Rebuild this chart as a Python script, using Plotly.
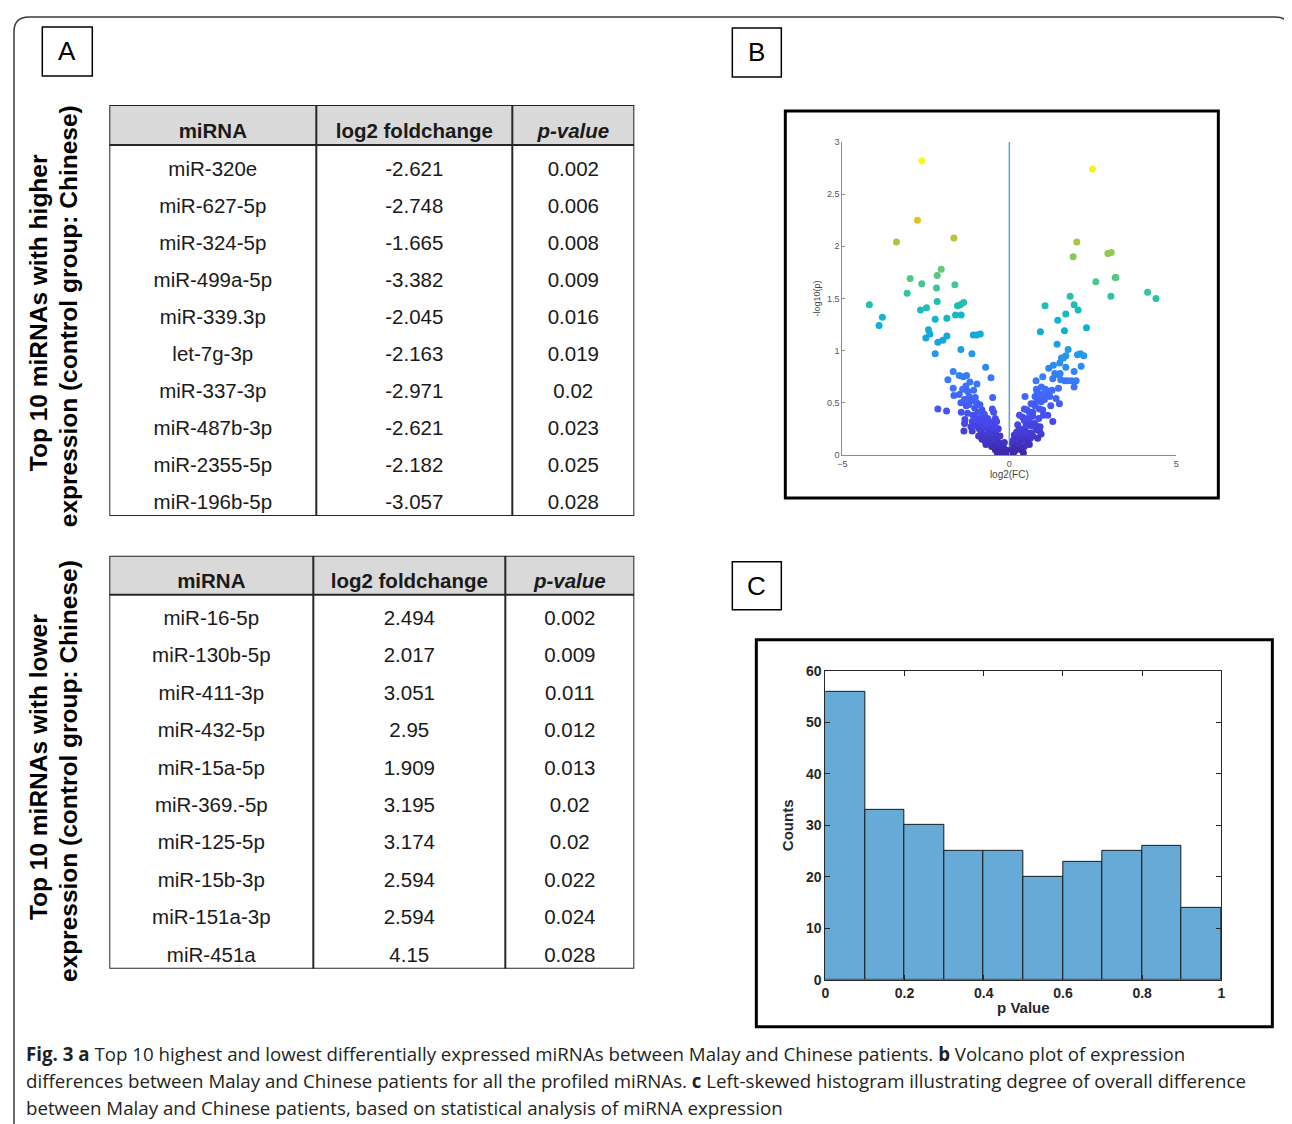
import plotly.graph_objects as go

# ---------------- data ----------------
table_header = ["miRNA", "log2 foldchange", "p-value"]

higher_mirna = ["miR-320e", "miR-627-5p", "miR-324-5p", "miR-499a-5p", "miR-339.3p",
                "let-7g-3p", "miR-337-3p", "miR-487b-3p", "miR-2355-5p", "miR-196b-5p"]
higher_log2fc = [-2.621, -2.748, -1.665, -3.382, -2.045, -2.163, -2.971, -2.621, -2.182, -3.057]
higher_pval = [0.002, 0.006, 0.008, 0.009, 0.016, 0.019, 0.02, 0.023, 0.025, 0.028]

lower_mirna = ["miR-16-5p", "miR-130b-5p", "miR-411-3p", "miR-432-5p", "miR-15a-5p",
               "miR-369.-5p", "miR-125-5p", "miR-15b-3p", "miR-151a-3p", "miR-451a"]
lower_log2fc = [2.494, 2.017, 3.051, 2.95, 1.909, 3.195, 3.174, 2.594, 2.594, 4.15]
lower_pval = [0.002, 0.009, 0.011, 0.012, 0.013, 0.02, 0.02, 0.022, 0.024, 0.028]

# volcano plot: (log2 FC, -log10 p)
volcano_left = [
    (-2.62, 2.82), (-2.75, 2.25), (-3.38, 2.04), (-1.66, 2.08), (-2.04, 1.78), (-2.16, 1.72), (-2.97, 1.69), (-2.62, 1.64), (-1.63, 1.63), (-2.18, 1.60),
    (-3.06, 1.55), (-2.16, 1.47), (-4.19, 1.44), (-1.37, 1.46), (-1.47, 1.44), (-1.55, 1.43), (-2.48, 1.41), (-2.66, 1.39), (-3.80, 1.32), (-3.90, 1.24),
    (-1.61, 1.34), (-1.44, 1.34), (-1.87, 1.31), (-2.22, 1.30), (-2.42, 1.20), (-2.38, 1.16), (-2.50, 1.12), (-2.14, 1.08), (-1.99, 1.10), (-1.87, 1.14),
    (-2.22, 0.97), (-1.45, 1.01), (-1.12, 0.97), (-1.08, 1.15), (-0.98, 1.15), (-0.87, 1.16), (-0.71, 0.84), (-0.55, 0.74), (-1.68, 0.80), (-1.84, 0.72),
    (-1.50, 0.76), (-1.28, 0.76), (-1.38, 0.75), (-1.68, 0.64), (-1.66, 0.57), (-1.30, 0.66), (-1.25, 0.61), (-1.07, 0.62), (-0.97, 0.68), (-1.20, 0.56),
    (-1.34, 0.53), (-1.29, 0.47), (-2.14, 0.44), (-1.88, 0.42), (-1.44, 0.41), (-1.04, 0.45), (-0.94, 0.41), (-1.09, 0.38), (-0.82, 0.43), (-0.75, 0.39),
    (-0.87, 0.35), (-0.65, 0.35), (-0.50, 0.55), (-0.51, 0.44), (-0.47, 0.41), (-0.42, 0.35), (-0.60, 0.32), (-1.33, 0.34), (-1.34, 0.30), (-1.11, 0.32),
    (-1.15, 0.27), (-1.36, 0.23), (-1.11, 0.23), (-0.84, 0.22), (-0.75, 0.19), (-0.65, 0.17), (-0.55, 0.14), (-0.45, 0.10), (-0.35, 0.08), (-0.30, 0.06),
    (-0.25, 0.04), (-0.20, 0.03), (-0.15, 0.02), (-0.10, 0.01), (-0.05, 0.005), (-0.53, 0.08), (-0.95, 0.30), (-0.90, 0.25), (-0.80, 0.28), (-0.70, 0.26),
    (-0.62, 0.22), (-0.58, 0.27), (-0.48, 0.25), (-0.40, 0.20), (-0.38, 0.15), (-0.32, 0.12), (-0.28, 0.18), (-0.42, 0.05), (-0.22, 0.10), (-0.18, 0.07),
    (-0.12, 0.05), (-0.08, 0.03), (-0.60, 0.12), (-0.70, 0.10), (-0.48, 0.15), (-0.36, 0.02), (-0.26, 0.01), (-0.15, 0.12), (-1.00, 0.35), (-0.98, 0.50),
    (-1.14, 0.52), (-1.22, 0.48), (-1.40, 0.63), (-1.50, 0.58), (-1.18, 0.70), (-1.02, 0.55), (-0.88, 0.48), (-0.78, 0.33), (-0.68, 0.30), (-0.52, 0.30),
    (-1.25, 0.40), (-1.45, 0.50), (-1.05, 0.28), (-0.92, 0.18), (-0.82, 0.15), (-0.72, 0.13), (-0.55, 0.20), (-0.45, 0.28), (-0.33, 0.25), (-0.38, 0.32),
]
volcano_right = [
    (2.49, 2.74), (2.02, 2.04), (2.95, 1.93), (3.05, 1.94), (1.91, 1.90), (3.19, 1.70), (3.17, 1.70), (2.59, 1.66), (1.82, 1.52), (3.04, 1.52),
    (4.14, 1.56), (4.39, 1.50), (1.94, 1.44), (2.06, 1.39), (1.07, 1.43), (1.69, 1.35), (1.45, 1.29), (2.31, 1.22), (1.65, 1.19), (0.93, 1.18),
    (1.43, 1.06), (1.76, 1.01), (2.04, 0.96), (2.13, 0.97), (2.23, 0.95), (1.69, 0.95), (1.62, 0.93), (1.56, 0.93), (1.51, 0.88), (1.32, 0.86),
    (1.18, 0.83), (1.69, 0.84), (2.15, 0.85), (1.94, 0.80), (1.36, 0.78), (1.44, 0.77), (1.52, 0.78), (1.30, 0.73), (1.54, 0.72), (1.66, 0.71),
    (1.74, 0.71), (1.86, 0.71), (2.00, 0.71), (1.00, 0.75), (0.80, 0.71), (1.94, 0.65), (1.47, 0.64), (0.96, 0.65), (1.08, 0.63), (1.20, 0.61),
    (1.28, 0.62), (0.81, 0.63), (0.84, 0.60), (0.97, 0.58), (1.11, 0.57), (1.21, 0.56), (0.47, 0.56), (0.77, 0.56), (0.85, 0.53), (0.95, 0.51),
    (1.05, 0.53), (1.40, 0.54), (1.50, 0.49), (1.24, 0.47), (0.65, 0.49), (0.73, 0.49), (0.90, 0.44), (1.00, 0.43), (0.77, 0.47), (0.45, 0.44),
    (0.53, 0.43), (0.60, 0.41), (0.70, 0.41), (1.15, 0.38), (1.30, 0.32), (0.30, 0.38), (0.40, 0.36), (0.45, 0.33), (0.60, 0.32), (0.75, 0.30),
    (0.80, 0.28), (0.25, 0.29), (0.30, 0.25), (0.40, 0.24), (0.50, 0.22), (0.65, 0.21), (0.80, 0.24), (0.90, 0.23), (0.95, 0.20), (0.15, 0.19),
    (0.25, 0.16), (0.37, 0.14), (0.50, 0.16), (0.63, 0.16), (0.85, 0.16), (0.60, 0.10), (0.10, 0.11), (0.20, 0.08), (0.05, 0.05), (0.15, 0.03),
    (0.03, 0.02), (0.08, 0.01), (0.35, 0.05), (0.45, 0.08), (0.55, 0.12), (0.70, 0.18), (0.35, 0.20), (0.22, 0.22), (0.12, 0.14), (0.28, 0.10),
    (0.42, 0.02), (0.18, 0.05), (0.65, 0.28), (0.55, 0.35), (0.88, 0.35), (0.50, 0.28), (1.02, 0.38), (0.92, 0.27), (0.70, 0.37),
]
volcano_log2fc = [p[0] for p in volcano_left + volcano_right]
volcano_neglog10p = [p[1] for p in volcano_left + volcano_right]

hist_bin_edges = [0.0, 0.1, 0.2, 0.3, 0.4, 0.5, 0.6, 0.7, 0.8, 0.9, 1.0]
hist_counts = [56, 33, 30, 25, 25, 20, 23, 25, 26, 14]

row_label_lines = [
    ["Top 10 miRNAs with higher", "expression (control group: Chinese)"],
    ["Top 10 miRNAs with lower", "expression (control group: Chinese)"],
]

caption_lines = [
    "<b>Fig. 3 a</b> Top 10 highest and lowest differentially expressed miRNAs between Malay and Chinese patients. <b>b</b> Volcano plot of expression",
    "differences between Malay and Chinese patients for all the profiled miRNAs. <b>c</b> Left-skewed histogram illustrating degree of overall difference",
    "between Malay and Chinese patients, based on statistical analysis of miRNA expression",
]

# ---------------- helpers ----------------
W, H = 1292, 1124
# screen placement of the page (measured): screen = S * figure_px + B
SX, BX = 0.993, 13.7
SY, BY = 0.986, 16.0


def px(x):
    return ((x - BX) / SX) / W


def py(y):
    return 1 - ((y - BY) / SY) / H


ARIAL = "Liberation Sans, Arial, sans-serif"
parula = [
    [0.0, "#3e26a8"], [1 / 9, "#4747eb"], [2 / 9, "#3e6fff"], [3 / 9, "#2796eb"],
    [4 / 9, "#08b4d0"], [5 / 9, "#31c69f"], [6 / 9, "#80cc59"], [7 / 9, "#dcbd29"],
    [8 / 9, "#fccf30"], [1.0, "#f9fb15"],
]

fig = go.Figure()
shapes = []
annotations = []


# ---------------- tables ----------------
def add_table(ax, names, fcs, ps, col_w, top, hline, bottom, header_y):
    xa, ya = "x" + ax, "y" + ax
    edges = [0, col_w[0], col_w[0] + col_w[1], col_w[0] + col_w[1] + col_w[2]]
    centers = [(edges[i] + edges[i + 1]) / 2 for i in range(3)]
    shapes.append(dict(type="rect", xref=xa, yref=ya, x0=edges[0], x1=edges[3], y0=top, y1=hline,
                       fillcolor="#d9d9d9", line=dict(width=0), layer="below"))
    shapes.append(dict(type="line", xref=xa, yref=ya, x0=edges[0], x1=edges[3], y0=hline, y1=hline,
                       line=dict(color="#262626", width=2)))
    for e in edges[1:3]:
        shapes.append(dict(type="line", xref=xa, yref=ya, x0=e, x1=e, y0=top, y1=bottom,
                           line=dict(color="#262626", width=2)))
    shapes.append(dict(type="rect", xref=xa, yref=ya, x0=edges[0], x1=edges[3], y0=top, y1=bottom,
                       line=dict(color="#262626", width=2)))
    rows = list(range(len(names)))
    cols = [names, [str(v) for v in fcs], [str(v) for v in ps]]
    for c in range(3):
        fig.add_trace(go.Scatter(x=[centers[c]] * len(rows), y=rows, text=cols[c], mode="text",
                                 textposition="middle center", xaxis=xa, yaxis=ya,
                                 textfont=dict(family=ARIAL, size=20.5, color="#1a1a1a"),
                                 hoverinfo="skip", showlegend=False, cliponaxis=False))
    hdr = ["<b>%s</b>" % table_header[0], "<b>%s</b>" % table_header[1], "<b><i>%s</i></b>" % table_header[2]]
    fig.add_trace(go.Scatter(x=centers, y=[header_y] * 3, text=hdr, mode="text",
                             textposition="middle center", xaxis=xa, yaxis=ya,
                             textfont=dict(family=ARIAL, size=20.5, color="#1a1a1a"),
                             hoverinfo="skip", showlegend=False, cliponaxis=False))


add_table("3", higher_mirna, higher_log2fc, higher_pval, [207, 196, 122], -1.78, -0.70, 9.32, -1.03)
add_table("4", lower_mirna, lower_log2fc, lower_pval, [204, 192, 129], -1.71, -0.67, 9.33, -0.99)

# ---------------- volcano ----------------
fig.add_trace(go.Scatter(x=[0, 0], y=[0, 3], mode="lines", line=dict(color="#5aa6dc", width=1.5),
                         xaxis="x", yaxis="y", hoverinfo="skip", showlegend=False))
fig.add_trace(go.Scatter(x=volcano_log2fc, y=volcano_neglog10p, mode="markers",
                         marker=dict(size=7, color=volcano_neglog10p, colorscale=parula,
                                     cmin=0, cmax=max(volcano_neglog10p), line=dict(width=0)),
                         xaxis="x", yaxis="y", showlegend=False))

# ---------------- histogram ----------------
hist_centers = [(hist_bin_edges[i] + hist_bin_edges[i + 1]) / 2 for i in range(len(hist_counts))]
hist_widths = [hist_bin_edges[i + 1] - hist_bin_edges[i] for i in range(len(hist_counts))]
fig.add_trace(go.Bar(x=hist_centers, y=hist_counts, width=hist_widths, xaxis="x2", yaxis="y2",
                     marker=dict(color="#66aad7", line=dict(color="#1a1a1a", width=1)),
                     showlegend=False))

# ---------------- decorations ----------------
# outer rounded frame (clamped to the drawable area)
fl, ft = max(px(10), 1.0 / W), min(py(8), 1 - 1.0 / H)
fr, fb = px(1291), py(1140)
rx, ry = 15.0 / W, 15.0 / H
shapes.append(dict(type="path", xref="paper", yref="paper",
                   path="M %f,%f L %f,%f Q %f,%f %f,%f L %f,%f Q %f,%f %f,%f L %f,%f" % (
                       fl, fb, fl, ft - ry, fl, ft, fl + rx, ft,
                       fr - rx, ft, fr, ft, fr, ft - ry, fr, fb),
                   line=dict(color="#3a3a3a", width=1.5)))
# panel boxes
shapes.append(dict(type="rect", xref="paper", yref="paper", x0=px(786), x1=px(1219), y0=py(498), y1=py(111),
                   line=dict(color="black", width=3)))
shapes.append(dict(type="rect", xref="paper", yref="paper", x0=px(757), x1=px(1273), y0=py(1027), y1=py(640),
                   line=dict(color="black", width=3)))
# panel letters
for letter, (x0, y0, x1, y1) in zip(["A", "B", "C"], [(43, 27, 93, 76), (733, 28, 782, 77), (733, 562, 782, 610)]):
    shapes.append(dict(type="rect", xref="paper", yref="paper", x0=px(x0), x1=px(x1), y0=py(y1), y1=py(y0),
                       line=dict(color="black", width=1.5)))
    annotations.append(dict(text=letter, xref="paper", yref="paper", x=px((x0 + x1) / 2), y=py((y0 + y1) / 2),
                            xanchor="center", yanchor="middle", showarrow=False,
                            font=dict(family=ARIAL, size=26, color="black")))

# rotated row labels (one annotation per line)
for lines, (x_first, x_second, yc1, yc2) in zip(row_label_lines, [(40, 70, 313, 316), (40, 70, 767, 771)]):
    for text, xc, yc in zip(lines, [x_first, x_second], [yc1, yc2]):
        annotations.append(dict(text="<b>%s</b>" % text, xref="paper", yref="paper", x=px(xc), y=py(yc),
                                textangle=-90, xanchor="center", yanchor="middle", showarrow=False,
                                font=dict(family=ARIAL, size=24.5, color="black")))

# caption
for i, line in enumerate(caption_lines):
    annotations.append(dict(text=line, xref="paper", yref="paper", x=px(25), y=py(1054 + 27 * i),
                            xanchor="left", yanchor="middle", showarrow=False, align="left",
                            font=dict(family="Open Sans, Noto Sans, sans-serif", size=18.7, color="#231f20")))

fig.update_layout(
    width=W, height=H, margin=dict(l=0, r=0, t=0, b=0),
    paper_bgcolor="white", plot_bgcolor="rgba(0,0,0,0)",
    shapes=shapes, annotations=annotations, bargap=0,
    xaxis=dict(domain=[px(843), px(1177)], range=[-5, 5], anchor="y", tickvals=[-5, 0, 5],
               showgrid=False, zeroline=False, showline=True, linecolor="#8c8c8c", linewidth=1,
               ticks="inside", ticklen=3, tickcolor="#8c8c8c",
               tickfont=dict(family=ARIAL, size=9, color="#555555"),
               title=dict(text="log2(FC)", font=dict(family=ARIAL, size=10, color="#444444"), standoff=2)),
    yaxis=dict(domain=[py(455), py(142)], range=[0, 3], anchor="x", tickvals=[0, 0.5, 1, 1.5, 2, 2.5, 3],
               ticktext=["0", "0.5", "1", "1.5", "2", "2.5", "3"],
               showgrid=False, zeroline=False, showline=True, linecolor="#8c8c8c", linewidth=1,
               ticks="inside", ticklen=3, tickcolor="#8c8c8c",
               tickfont=dict(family=ARIAL, size=9, color="#555555"),
               title=dict(text="-log10(p)", font=dict(family=ARIAL, size=9, color="#444444"), standoff=4)),
    xaxis2=dict(domain=[px(826), px(1222)], range=[0, 1], anchor="y2", tickvals=[0, 0.2, 0.4, 0.6, 0.8, 1],
                ticktext=["0", "0.2", "0.4", "0.6", "0.8", "1"],
                showgrid=False, zeroline=False, showline=True, mirror="ticks", linecolor="#262626", linewidth=1,
                ticks="inside", ticklen=5, tickcolor="#262626",
                tickfont=dict(family=ARIAL, size=14, color="#262626", weight="bold"),
                title=dict(text="p Value", font=dict(family=ARIAL, size=15, color="#262626", weight="bold"), standoff=2)),
    yaxis2=dict(domain=[py(980), py(671)], range=[0, 60], anchor="x2", tickvals=[0, 10, 20, 30, 40, 50, 60],
                showgrid=False, zeroline=False, showline=True, mirror="ticks", linecolor="#262626", linewidth=1,
                ticks="inside", ticklen=5, tickcolor="#262626",
                tickfont=dict(family=ARIAL, size=14, color="#262626", weight="bold"),
                title=dict(text="Counts", font=dict(family=ARIAL, size=15, color="#262626", weight="bold"), standoff=8)),
    xaxis3=dict(domain=[px(110), px(635)], range=[0, 525], anchor="y3", visible=False, fixedrange=True),
    yaxis3=dict(domain=[py(516), py(105)], range=[9.32, -1.78], anchor="x3", visible=False, fixedrange=True),
    xaxis4=dict(domain=[px(110), px(635)], range=[0, 525], anchor="y4", visible=False, fixedrange=True),
    yaxis4=dict(domain=[py(969), py(556)], range=[9.33, -1.71], anchor="x4", visible=False, fixedrange=True),
)

fig.write_html("out.html")
